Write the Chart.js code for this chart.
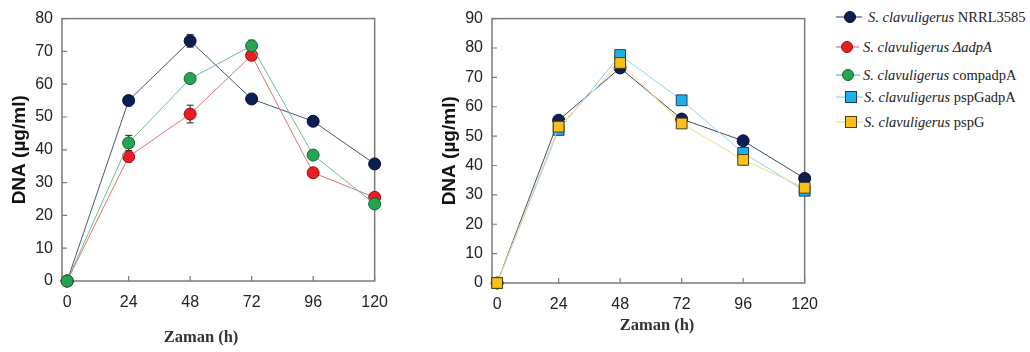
<!DOCTYPE html>
<html>
<head>
<meta charset="utf-8">
<script src="https://cdn.jsdelivr.net/npm/chart.js@4.4.1/dist/chart.umd.min.js"></script>
<style>
  html, body { margin: 0; padding: 0; background: #fff; }
  body { position: relative; width: 1030px; height: 352px; overflow: hidden; }
  canvas { position: absolute; top: 0; }
  .xtitle {
    position: absolute; transform: translate(-50%, -50%); white-space: nowrap;
    font: bold 16.5px "Liberation Serif", "Times New Roman", serif; color: #333;
  }
  .leg { position: absolute; left: 834px; height: 20px; white-space: nowrap;
    font: 14.5px "Liberation Serif", "Times New Roman", serif; color: #222; }
  .leg svg { position: absolute; left: 0; top: 0; }
  .leg span.t { position: absolute; top: 50%; transform: translateY(-50%); }
</style>
</head>
<body>
<canvas id="chartA" width="400" height="352" style="left:0"></canvas>
<canvas id="chartB" width="400" height="352" style="left:430px"></canvas>
<div class="xtitle" style="left:201px; top:337px">Zaman (h)</div>
<div class="xtitle" style="left:657px; top:325px">Zaman (h)</div>
<div id="legend"></div>

<script>
// Sampling times (h) and tick labels
const hours = [0, 24, 48, 72, 96, 120];
const xTicks = [0, 24, 48, 72, 96, 120];

// Left panel: DNA (µg/ml)
const nrrlA     = [0, 55.0, 73.2, 55.5, 48.7, 35.7];
const nrrlAErr  = [0, 0.6, 1.9, 0.6, 0.6, 0.6];
const deltaA    = [0, 37.9, 50.9, 68.8, 33.0, 25.5];
const deltaAErr = [0, 1.0, 2.7, 1.0, 1.0, 0.6];
const compA     = [0, 42.1, 61.7, 71.7, 38.4, 23.5];
const compAErr  = [0, 2.3, 0.6, 1.7, 0.8, 0.6];

// Right panel: DNA (µg/ml)
const nrrlB    = [0, 55.4, 73.2, 55.8, 48.4, 35.6];
const pspGadpA = [0, 52.1, 77.6, 62.2, 44.3, 31.4];
const pspG     = [0, 53.2, 74.9, 54.3, 41.9, 32.4];

// Legend entries: italic species name, strain, strain italic?
const legendSpecies = 'S. clavuligerus';
const legendStrains = ['NRRL3585', 'ΔadpA', 'compadpA', 'pspGadpA', 'pspG'];
const legendStrainItalic = [false, true, false, false, false];

const C = {
  navy:   { fill: '#0c1e55', edge: '#06102e', line: '#4a5676' },
  red:    { fill: '#ec1c24', edge: '#8a1212', line: '#e07272' },
  green:  { fill: '#22a652', edge: '#185f34', line: '#66bf95' },
  blue:   { fill: '#20b0e8', edge: '#1a3f66', line: '#8ed3ec' },
  yellow: { fill: '#f9c01a', edge: '#4c3d12', line: '#efd98c' }
};

function series(label, values, col, style, order, errs) {
  return {
    label, order,
    data: hours.map((h, i) => ({ x: h, y: values[i] })),
    borderColor: col.line, borderWidth: 1,
    pointBackgroundColor: col.fill, pointBorderColor: col.edge, pointBorderWidth: 1,
    pointStyle: style, pointRadius: style === 'rect' ? 7.6 : 6, pointHoverRadius: 6,
    tension: 0, clip: false, errors: errs || null
  };
}

// Box frame with inward tick marks, drawn beneath the data
const framePlugin = {
  id: 'frame',
  beforeDatasetsDraw(chart) {
    const { ctx, chartArea: a, scales } = chart;
    ctx.save();
    ctx.strokeStyle = '#7a7a7a';
    ctx.lineWidth = 1.5;
    ctx.strokeRect(a.left, a.top, a.right - a.left, a.bottom - a.top);
    ctx.lineWidth = 1.2;
    ctx.beginPath();
    scales.x.ticks.forEach(t => {
      const px = scales.x.getPixelForValue(t.value);
      ctx.moveTo(px, a.bottom); ctx.lineTo(px, a.bottom - 5);
    });
    scales.y.ticks.forEach(t => {
      const py = scales.y.getPixelForValue(t.value);
      ctx.moveTo(a.left, py); ctx.lineTo(a.left + 5, py);
    });
    ctx.stroke();
    // error bars
    chart.data.datasets.forEach(ds => {
      if (!ds.errors) return;
      ctx.strokeStyle = '#222';
      ctx.lineWidth = 1;
      ds.data.forEach((p, i) => {
        const e = ds.errors[i];
        if (!e) return;
        const px = scales.x.getPixelForValue(p.x);
        const y1 = scales.y.getPixelForValue(p.y + e);
        const y0 = scales.y.getPixelForValue(p.y - e);
        ctx.beginPath();
        ctx.moveTo(px, y0); ctx.lineTo(px, y1);
        ctx.moveTo(px - 3.5, y1); ctx.lineTo(px + 3.5, y1);
        ctx.moveTo(px - 3.5, y0); ctx.lineTo(px + 3.5, y0);
        ctx.stroke();
      });
    });
    ctx.restore();
  }
};

function makeChart(id, datasets, yMax, xHeight, topPad) {
  return new Chart(document.getElementById(id), {
    type: 'line',
    data: { datasets },
    plugins: [framePlugin],
    options: {
      responsive: false,
      animation: false,
      events: [],
      layout: { padding: { top: topPad, right: 24, left: 0, bottom: 0 } },
      plugins: { legend: { display: false }, tooltip: { enabled: false } },
      scales: {
        x: {
          type: 'linear', min: -2, max: 120,
          afterBuildTicks: s => { s.ticks = xTicks.map(v => ({ value: v })); },
          afterFit: s => { s.height = xHeight; },
          grid: { display: false, drawTicks: false },
          border: { display: false },
          ticks: { padding: 12, color: '#222', maxRotation: 0,
                   font: { family: '"Liberation Sans", Arial, sans-serif', size: 16 } }
        },
        y: {
          min: 0, max: yMax,
          afterFit: s => { s.width = 62; },
          grid: { display: false, drawTicks: false },
          border: { display: false },
          ticks: { stepSize: 10, padding: 9, color: '#222',
                   font: { family: '"Liberation Sans", Arial, sans-serif', size: 16 } },
          title: { display: true, text: 'DNA (µg/ml)', color: '#111',
                   padding: { top: 8, bottom: 0 },
                   font: { family: '"Liberation Sans", Arial, sans-serif', size: 19, weight: 'bold' } }
        }
      }
    }
  });
}

makeChart('chartA', [
  series('NRRL3585', nrrlA, C.navy, 'circle', 2, nrrlAErr),
  series('ΔadpA', deltaA, C.red, 'circle', 1, deltaAErr),
  series('compadpA', compA, C.green, 'circle', 0, compAErr)
], 80, 71, 11);

makeChart('chartB', [
  series('NRRL3585', nrrlB, { ...C.navy, line: '#3e4a6a' }, 'circle', 2),
  series('pspGadpA', pspGadpA, C.blue, 'rect', 1),
  series('pspG', pspG, C.yellow, 'rect', 0)
], 90, 69, 10);

// Legend
const legendCols = [C.navy, C.red, C.green, C.blue, C.yellow];
const legendShape = ['circle', 'circle', 'circle', 'rect', 'rect'];
const legendRowY = [17, 47, 75, 97, 122];
const legendTextX = [34, 29, 29, 30, 30];
const legendMarkX = [16, 13, 14, 17, 17];
const legend = document.getElementById('legend');
legendStrains.forEach((s, i) => {
  const c = legendCols[i];
  const row = document.createElement('div');
  row.className = 'leg';
  row.style.top = (legendRowY[i] - 10) + 'px';
  const m = legendMarkX[i];
  const mark = legendShape[i] === 'circle'
    ? `<circle cx="${m}" cy="10" r="5.5" fill="${c.fill}" stroke="${c.edge}" stroke-width="1"/>`
    : `<rect x="${m - 5.5}" y="4.5" width="11" height="11" fill="${c.fill}" stroke="${c.edge}" stroke-width="1"/>`;
  row.innerHTML =
    `<svg width="40" height="20"><line x1="2" y1="10" x2="${m + 12}" y2="10" stroke="${c.line}" stroke-width="1.2"/>${mark}</svg>` +
    `<span class="t" style="left:${legendTextX[i]}px"><i>${legendSpecies}</i> ` +
    (legendStrainItalic[i] ? `<i>${s}</i>` : s) + `</span>`;
  legend.appendChild(row);
});
</script>
</body>
</html>
